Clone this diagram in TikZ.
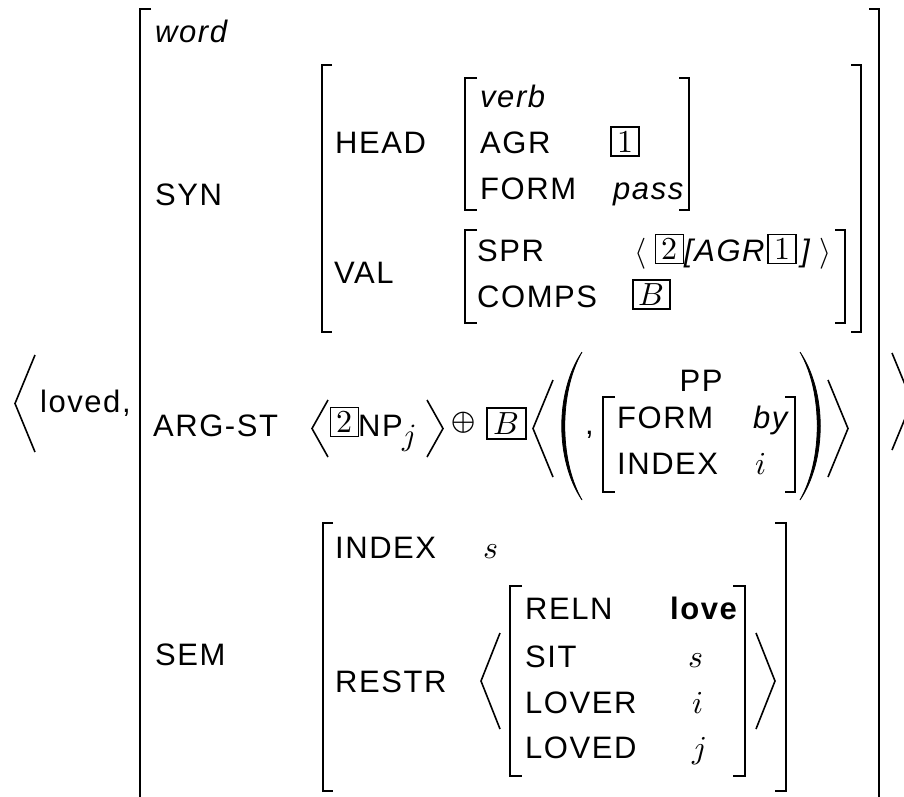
\documentclass[tikz,border=0pt]{standalone}
\usepackage{unicode-math}
\setmainfont{Liberation Sans}[LetterSpace=5]
\setmathfont{Latin Modern Math}
\begin{document}
\begin{tikzpicture}[x=1pt,y=-1pt,
  font=\fontsize{31}{37}\selectfont,
  brk/.style={line width=2.5pt,line join=miter},
  ang/.style={line width=1.6pt,line join=miter},
  par/.style={fill,line width=0.8pt},
  lab/.style={anchor=base west,inner sep=0pt},
  mth/.style={lab,font=\fontsize{32}{38}\selectfont},
  tag/.style={draw,line width=1.8pt,inner sep=0pt,minimum width=28pt,minimum height=29pt,font=\fontsize{32}{38}\selectfont}]
\path[use as bounding box] (0,0) rectangle (904,796);
\clip (0,0) rectangle (904,796);

% outer matrix
\draw[brk] (151,9) -- (140,9) -- (140,810);
\draw[brk] (869,9) -- (879,9) -- (879,810);
\draw[ang] (35,355) -- (15,403.5) -- (35,452);
\draw[ang] (892,353) -- (912,401.5) -- (892,450);
\node[lab] (loved) at (40,412) {loved,};
\node[lab] (word) at (155,42) {\itshape word};
\node[lab] (syn) at (155,205) {SYN};
\node[lab] (argst) at (153,436) {ARG-ST};
\node[lab] (sem) at (155,665) {SEM};

% SYN
\draw[brk] (332,65) -- (322,65) -- (322,332) -- (332,332);
\draw[brk] (851,65) -- (861,65) -- (861,332) -- (851,332);
\node[lab] (head) at (335,153) {HEAD};
\node[lab] (val) at (334,283) {VAL};

\draw[brk] (477,78) -- (465,78) -- (465,210) -- (477,210);
\draw[brk] (679,78) -- (689,78) -- (689,210) -- (679,210);
\node[lab] (verb) at (480,107) {\itshape verb};
\node[lab] (agr) at (480,153) {AGR};
\node[tag] (agrtag) at (625,141.5) {$1$};
\node[lab] (form) at (480,199) {FORM};
\node[lab] (pass) at (613,199) {\itshape pass};

\draw[brk] (477,230) -- (465,230) -- (465,323) -- (477,323);
\draw[brk] (835,230) -- (845,230) -- (845,323) -- (835,323);
\node[lab] (spr) at (477,261) {SPR};
\node[lab] (sprl) at (634,261) {$\langle$};
\node[tag] (sprtag) at (669.5,249) {$2$};
\node[lab] (spragr) at (684,261) {\itshape [AGR};
\node[tag] (spragrtag) at (782,249) {$1$};
\node[lab] (sprrb) at (801,261) {\itshape ]};
\node[lab] (sprr) at (819,261) {$\rangle$};
\node[lab] (comps) at (477,307) {COMPS};
\node[tag,minimum width=37pt] (compstag) at (651.5,294.5) {$B$};

% ARG-ST
\draw[ang] (328,400) -- (312,428.5) -- (328,457);
\node[tag] (nptag) at (344.5,422) {$2$};
\node[lab] (np) at (358,436) {NP$_{\textstyle j}$};
\draw[ang] (427,400) -- (443,428.5) -- (427,457);
\node[inner sep=0pt] (plus) at (463.5,423) {$\oplus$};
\node[tag,minimum width=39pt,minimum height=31pt] (btag) at (506.5,423.5) {$B$};
\draw[ang] (553,380) -- (533,428.5) -- (553,477);
\filldraw[par] (582,352) .. controls (555,392) and (555,460) .. (582,500)
  .. controls (559,460) and (559,392) .. (582,352);
\node[lab] (comma) at (585,434) {,};
\node[anchor=base,inner sep=0pt] (pp) at (701,391) {PP};
\draw[brk] (615,397) -- (603,397) -- (603,492) -- (615,492);
\draw[brk] (785,397) -- (795,397) -- (795,492) -- (785,492);
\node[lab] (ppform) at (617,428) {FORM};
\node[lab] (by) at (753,428) {\itshape by};
\node[lab] (ppindex) at (617,474) {INDEX};
\node[mth] (ppi) at (755,474) {$i$};
\filldraw[par] (800,352) .. controls (827,392) and (827,460) .. (800,500)
  .. controls (823,460) and (823,392) .. (800,352);
\draw[ang] (828,380) -- (848,428.5) -- (828,477);

% SEM
\draw[brk] (333,523) -- (323,523) -- (323,791) -- (333,791);
\draw[brk] (775,523) -- (786,523) -- (786,791) -- (775,791);
\node[lab] (index) at (335,558) {INDEX};
\node[mth] (inds) at (483,558) {$s$};
\node[lab] (restr) at (335,692) {RESTR};
\draw[ang] (500,633) -- (481,681) -- (500,729);
\draw[brk] (522,586) -- (510,586) -- (510,776) -- (522,776);
\draw[brk] (733,586) -- (745,586) -- (745,776) -- (733,776);
\node[lab] (reln) at (525,619) {RELN};
\node[lab] (love) at (670,619) {\bfseries love};
\node[lab] (sit) at (525,667) {SIT};
\node[mth] (sits) at (688,667) {$s$};
\node[lab] (lover) at (525,713) {LOVER};
\node[mth] (loveri) at (692,713) {$i$};
\node[lab] (loved2) at (525,758) {LOVED};
\node[mth] (lovedj) at (692,758) {$j$};
\draw[ang] (756,633) -- (775,681) -- (756,729);
\end{tikzpicture}
\end{document}
